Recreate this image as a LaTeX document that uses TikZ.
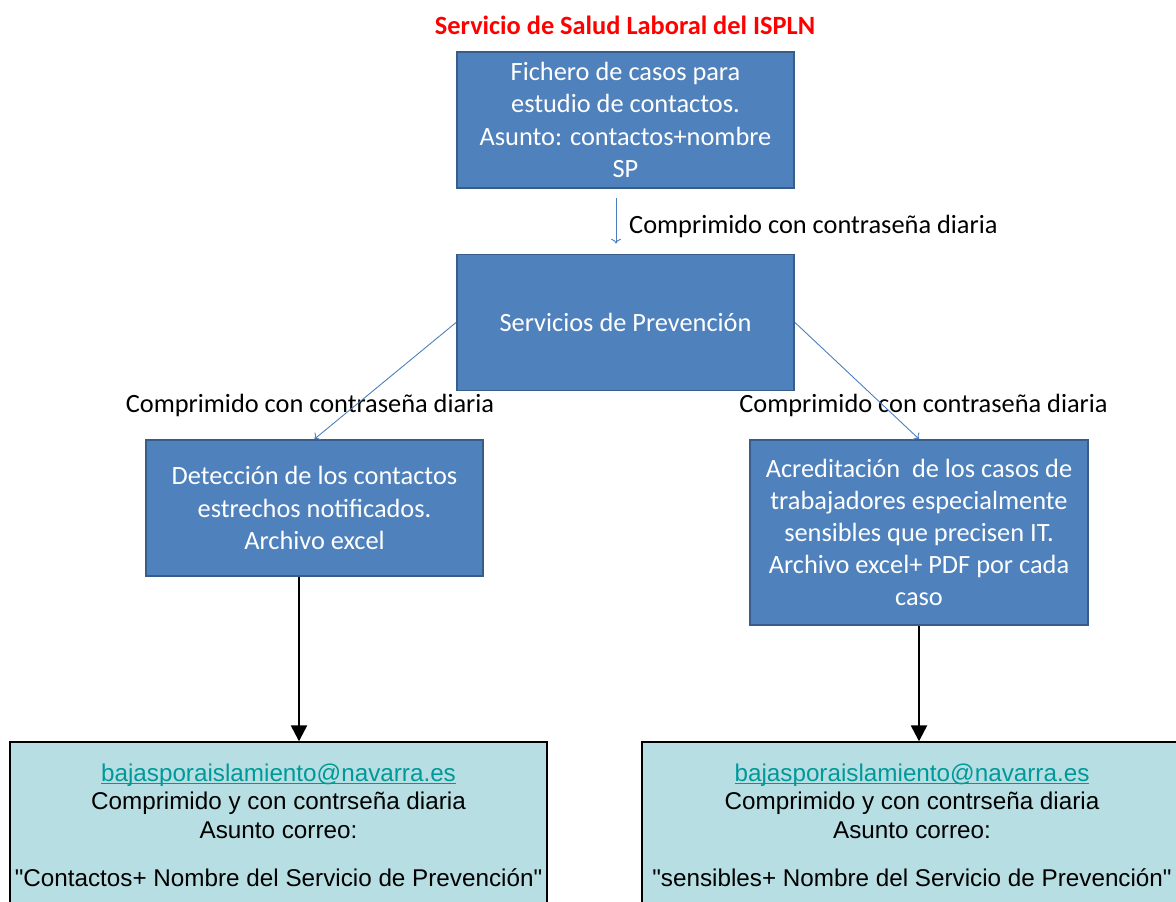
\documentclass[tikz,border=0pt]{standalone}
\usepackage{fontspec}
\setmainfont{Carlito}
\newfontfamily\arialfont[Ligatures=TeXOff]{Liberation Sans}
\usetikzlibrary{arrows.meta}
\definecolor{boxblue}{HTML}{4F81BD}
\definecolor{boxedge}{HTML}{385D8A}
\definecolor{arrowblue}{HTML}{4A7EBB}
\definecolor{mailfill}{HTML}{B7DEE3}
\definecolor{linkteal}{HTML}{009999}

\begin{document}
\begin{tikzpicture}
\tikzstyle{block} = [rectangle, draw=boxedge, line width=1.1pt, fill=boxblue, text=white, align=center, minimum width=6.74cm, inner sep=0pt, font=\fontsize{15}{18.3}\selectfont]
\tikzstyle{mail} = [rectangle, draw=black, line width=0.8pt, fill=mailfill, align=center, minimum width=10.74cm, minimum height=3.68cm, inner sep=0pt, font=\arialfont\fontsize{13.8}{16.4}\selectfont]
\tikzstyle{note} = [font=\fontsize{15}{18}\selectfont]
\tikzstyle{blueline} = [->, draw=arrowblue, line width=0.5pt]
\tikzstyle{blackline} = [-{Triangle[width=9pt,length=9pt]}, line width=1.4pt]

\useasboundingbox (0,0) rectangle (23.52,-18.04);

\node at (12.5,-0.5) [text=red, font=\fontsize{15}{18}\selectfont\bfseries] (titulo) {Servicio de Salud Laboral del ISPLN};

\node at (12.51,-2.40) [block, minimum height=2.72cm] (fichero) {Fichero de casos para\\estudio de contactos.\\Asunto: contactos+nombre\\SP};
\node at (12.51,-6.45) [block, minimum height=2.72cm] (prevencion) {Servicios de Prevención};

\node at (12.46,-4.52) [note, anchor=west] (etiqueta1) {Comprimido con contraseña diaria};
\draw[blueline] ([shift={(-0.19,-0.18)}]fichero.south) -- ([shift={(-0.19,0.2)}]prevencion.north);

\node at (6.20,-8.10) [note] (etiqueta2) {Comprimido con contraseña diaria};
\node at (18.47,-8.10) [note] (etiqueta3) {Comprimido con contraseña diaria};

\node at (6.29,-10.16) [block, minimum height=2.72cm] (deteccion) {Detección de los contactos\\estrechos notificados.\\Archivo excel};
\node at (18.38,-10.65) [block, minimum width=6.76cm, minimum height=3.70cm] (acreditacion) {Acreditación\ \ de los casos de\\trabajadores especialmente\\sensibles que precisen IT.\\Archivo excel+ PDF por cada\\caso};

\draw[blueline] (prevencion.west) -- (deteccion.north);
\draw[blueline] (prevencion.east) -- (acreditacion.north);

\node at (5.57,-16.68) [mail] (correo1) {\textcolor{linkteal}{\underline{\smash{bajasporaislamiento@navarra.es}}}\\Comprimido y con contrseña diaria\\Asunto correo:\\[10.8pt]"Contactos+ Nombre del Servicio de Prevención"};
\node at (18.24,-16.68) [mail, minimum width=10.8cm] (correo2) {\textcolor{linkteal}{\underline{\smash{bajasporaislamiento@navarra.es}}}\\Comprimido y con contrseña diaria\\Asunto correo:\\[10.8pt]"sensibles+ Nombre del Servicio de Prevención"};

\draw[blackline] ([xshift=-0.31cm]deteccion.south) -- ([xshift=-0.31cm]deteccion.south |- correo1.north);
\draw[blackline] (acreditacion.south) -- (acreditacion.south |- correo2.north);

\end{tikzpicture}
\end{document}
